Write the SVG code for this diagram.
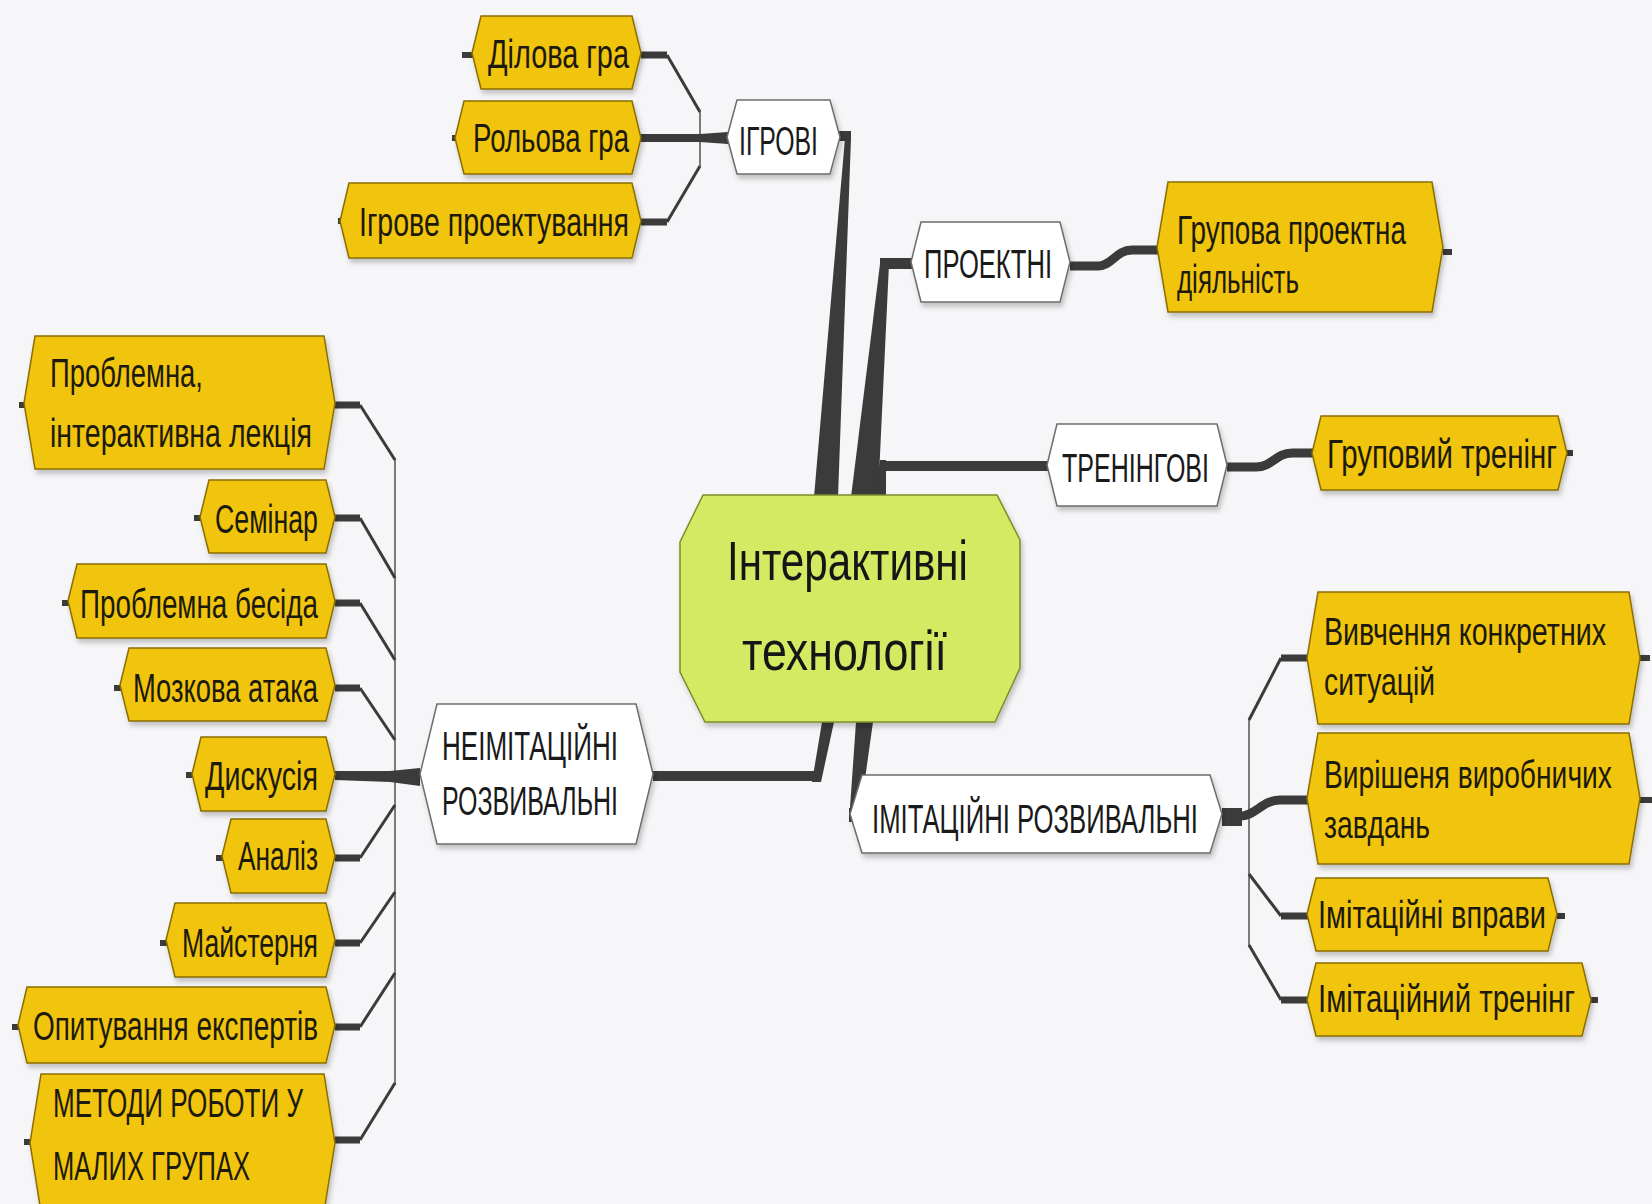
<svg xmlns="http://www.w3.org/2000/svg" width="1652" height="1204" viewBox="0 0 1652 1204">
<defs>
<filter id="sh" x="-10%" y="-10%" width="125%" height="135%">
<feDropShadow dx="2" dy="4" stdDeviation="2.5" flood-color="#000" flood-opacity="0.22"/>
</filter>
<style>
.y{fill:#f1c40f;stroke:#8a6e00;stroke-width:1.5;filter:url(#sh)}
.w{fill:#ffffff;stroke:#6c6c6c;stroke-width:1.5;filter:url(#sh)}
.c{fill:#d5ea63;stroke:#7d8c2c;stroke-width:1.5;filter:url(#sh)}
.t,.tw,.tc,.tr{font-family:"Liberation Sans",Arial,sans-serif}
.t{font-size:32px;fill:#1c1a0c}
.tr{font-size:31px;fill:#1c1a0c}
.tw{font-size:32px;fill:#1a1a1a}
.tc{font-size:46px;fill:#161616}
.h{stroke:#3b3b3b;stroke-width:7;fill:none}
.d{stroke:#3b3b3b;stroke-width:3;fill:none}
.s{stroke:#505050;stroke-width:1.5;fill:none}
.st{stroke:#3b3b3b;stroke-width:6;fill:none}
.b{stroke:#3b3b3b;stroke-width:10;fill:none}
.f{fill:#3b3b3b}
</style>
</defs>
<rect x="0" y="0" width="1652" height="1204" fill="#f6f6f8"/>

<g id="connectors">
<path class="h" d="M641,55 H667"/><path class="d" d="M667,55 L700,112"/>
<path class="h" d="M641,222 H667"/><path class="d" d="M667,222 L700,166"/>
<path class="s" d="M700,110 V168"/>
<polygon class="f" points="641,134 700,134 728,132 728,144 700,142 641,142"/>
<path class="st" d="M462,55 H474"/><path class="st" d="M452,138 H457"/><path class="st" d="M338,221 H342"/>
<rect class="f" x="838" y="131" width="13" height="10"/>
<polygon class="f" points="845,138 851,138 838,497 814,497"/>
<rect class="f" x="880" y="258" width="32" height="11"/>
<polygon class="f" points="880,264 889,264 878,497 851,497"/>
<polygon class="f" points="874,497 886,497 886,460 880,460"/>
<path class="b" d="M880,466 H1048"/>
<polygon class="f" points="822,722 834,722 821,782 812,782"/>
<path class="b" d="M653,776 H818"/>
<polygon class="f" points="856,722 873,722 859,822 849,822"/>
<rect class="f" x="849" y="808" width="10" height="14"/>
<path d="M1070,266 H1098 C1112,266 1116,250 1132,250 H1158" stroke="#3b3b3b" stroke-width="9" fill="none"/>
<path class="st" d="M1443,252 H1452"/>
<path d="M1227,467 H1256 C1272,467 1276,453 1292,453 H1313" stroke="#3b3b3b" stroke-width="9" fill="none"/>
<path class="st" d="M1567,453 H1573"/>
<path class="s" d="M395,458 V1085"/>
<path class="h" d="M335,405 H360"/><path class="d" d="M360,405 L395,460"/>
<path class="h" d="M335,518 H360"/><path class="d" d="M360,518 L395,578"/>
<path class="h" d="M335,603 H360"/><path class="d" d="M360,603 L395,660"/>
<path class="h" d="M335,688 H360"/><path class="d" d="M360,688 L395,740"/>
<polygon class="f" points="335,771 390,771 420,768 420,786 390,782 335,780"/>
<path class="h" d="M335,858 H360"/><path class="d" d="M360,858 L395,805"/>
<path class="h" d="M335,943 H360"/><path class="d" d="M360,943 L395,892"/>
<path class="h" d="M335,1027 H360"/><path class="d" d="M360,1027 L395,973"/>
<path class="h" d="M335,1140 H360"/><path class="d" d="M360,1140 L395,1083"/>
<path class="st" d="M19,405 H27"/><path class="st" d="M194,518 H203"/><path class="st" d="M62,603 H71"/>
<path class="st" d="M114,688 H123"/><path class="st" d="M186,775 H195"/><path class="st" d="M216,858 H225"/>
<path class="st" d="M160,943 H169"/><path class="st" d="M12,1027 H21"/><path class="st" d="M24,1142 H33"/>
<path class="s" d="M1249,718 V947"/>
<path class="h" d="M1281,658 H1309"/><path class="d" d="M1281,658 L1249,720"/>
<path d="M1222,816 H1240 C1256,816 1262,800 1280,800 H1309" stroke="#3b3b3b" stroke-width="9" fill="none"/>
<rect class="f" x="1222" y="808" width="20" height="18"/>
<path class="h" d="M1281,916 H1309"/><path class="d" d="M1281,916 L1249,874"/>
<path class="h" d="M1281,1000 H1309"/><path class="d" d="M1281,1000 L1249,945"/>
<path class="st" d="M1640,658 H1650"/><path class="st" d="M1640,800 H1652"/>
<path class="st" d="M1557,916 H1565"/><path class="st" d="M1591,1000 H1598"/>
</g>

<g id="center">
<polygon class="c" points="703,495 997,495 1020,540 1020,668 995,722 705,722 680,672 680,542"/>
<text class="tc" x="727" y="580" transform="matrix(1 0 0 1.2 0 -116)" textLength="241" lengthAdjust="spacingAndGlyphs">Інтерактивні</text>
<text class="tc" x="742" y="670" transform="matrix(1 0 0 1.2 0 -134)" textLength="205" lengthAdjust="spacingAndGlyphs">технології</text>
</g>

<g id="igrovi">
<polygon class="w" points="737,100 830,100 840,137 830,174 737,174 727,137"/>
<text class="tw" x="739" y="155" transform="matrix(1 0 0 1.25 0 -38.75)" textLength="79" lengthAdjust="spacingAndGlyphs">ІГРОВІ</text>
</g>
<g id="dilova-gra">
<polygon class="y" points="481,16 632,16 641,53 632,89 481,89 472,53"/>
<text class="t" x="488" y="68" transform="matrix(1 0 0 1.25 0 -17)" textLength="141" lengthAdjust="spacingAndGlyphs">Ділова гра</text>
</g>
<g id="rolova-gra">
<polygon class="y" points="464,101 632,101 641,138 632,174 464,174 455,138"/>
<text class="t" x="473" y="152" transform="matrix(1 0 0 1.25 0 -38)" textLength="156" lengthAdjust="spacingAndGlyphs">Рольова гра</text>
</g>
<g id="igrove-proektuvannia">
<polygon class="y" points="349,183 632,183 641,221 632,258 349,258 340,221"/>
<text class="t" x="359" y="236" transform="matrix(1 0 0 1.25 0 -59)" textLength="270" lengthAdjust="spacingAndGlyphs">Ігрове проектування</text>
</g>

<g id="proektni">
<polygon class="w" points="921,222 1060,222 1070,262 1060,302 921,302 911,262"/>
<text class="tw" x="924" y="278" transform="matrix(1 0 0 1.25 0 -69.5)" textLength="128" lengthAdjust="spacingAndGlyphs">ПРОЕКТНІ</text>
</g>
<g id="grupova-proektna">
<polygon class="y" points="1168,182 1432,182 1443,247 1432,312 1168,312 1157,247"/>
<text class="t" x="1177" y="244" transform="matrix(1 0 0 1.25 0 -61)" textLength="229" lengthAdjust="spacingAndGlyphs">Групова проектна</text>
<text class="t" x="1177" y="293" transform="matrix(1 0 0 1.25 0 -73.25)" textLength="122" lengthAdjust="spacingAndGlyphs">діяльність</text>
</g>

<g id="treningovi">
<polygon class="w" points="1057,424 1217,424 1227,465 1217,506 1057,506 1047,465"/>
<text class="tw" x="1062" y="482" transform="matrix(1 0 0 1.25 0 -120.5)" textLength="147" lengthAdjust="spacingAndGlyphs">ТРЕНІНГОВІ</text>
</g>
<g id="grupovyi-trening">
<polygon class="y" points="1321,416 1558,416 1567,453 1558,490 1321,490 1312,453"/>
<text class="t" x="1327" y="468" transform="matrix(1 0 0 1.25 0 -117)" textLength="230" lengthAdjust="spacingAndGlyphs">Груповий тренінг</text>
</g>

<g id="neimitatsiini">
<polygon class="w" points="437,704 636,704 653,774 636,844 437,844 420,774"/>
<text class="tw" x="442" y="760" transform="matrix(1 0 0 1.25 0 -190)" textLength="176" lengthAdjust="spacingAndGlyphs">НЕІМІТАЦІЙНІ</text>
<text class="tw" x="442" y="815" transform="matrix(1 0 0 1.25 0 -203.75)" textLength="176" lengthAdjust="spacingAndGlyphs">РОЗВИВАЛЬНІ</text>
</g>
<g id="problemna-lektsiia">
<polygon class="y" points="35,336 324,336 335,403 324,469 35,469 24,403"/>
<text class="t" x="50" y="387" transform="matrix(1 0 0 1.25 0 -96.75)" textLength="153" lengthAdjust="spacingAndGlyphs">Проблемна,</text>
<text class="t" x="50" y="447" transform="matrix(1 0 0 1.25 0 -111.75)" textLength="262" lengthAdjust="spacingAndGlyphs">інтерактивна лекція</text>
</g>
<g id="seminar">
<polygon class="y" points="209,480 326,480 335,517 326,553 209,553 200,517"/>
<text class="t" x="215" y="533" transform="matrix(1 0 0 1.25 0 -133.25)" textLength="103" lengthAdjust="spacingAndGlyphs">Семінар</text>
</g>
<g id="problemna-besida">
<polygon class="y" points="77,564 326,564 335,601 326,638 77,638 68,601"/>
<text class="t" x="80" y="618" transform="matrix(1 0 0 1.25 0 -154.5)" textLength="238" lengthAdjust="spacingAndGlyphs">Проблемна бесіда</text>
</g>
<g id="mozkova-ataka">
<polygon class="y" points="129,648 326,648 335,685 326,721 129,721 120,685"/>
<text class="t" x="133" y="702" transform="matrix(1 0 0 1.25 0 -175.5)" textLength="185" lengthAdjust="spacingAndGlyphs">Мозкова атака</text>
</g>
<g id="dyskusiia">
<polygon class="y" points="201,737 326,737 335,774 326,811 201,811 192,774"/>
<text class="t" x="205" y="790" transform="matrix(1 0 0 1.25 0 -197.5)" textLength="113" lengthAdjust="spacingAndGlyphs">Дискусія</text>
</g>
<g id="analiz">
<polygon class="y" points="231,819 326,819 335,856 326,893 231,893 222,856"/>
<text class="t" x="238" y="870" transform="matrix(1 0 0 1.25 0 -217.5)" textLength="80" lengthAdjust="spacingAndGlyphs">Аналіз</text>
</g>
<g id="maisterniia">
<polygon class="y" points="175,903 326,903 335,940 326,977 175,977 166,940"/>
<text class="t" x="182" y="957" transform="matrix(1 0 0 1.25 0 -239.25)" textLength="136" lengthAdjust="spacingAndGlyphs">Майстерня</text>
</g>
<g id="opytuvannia">
<polygon class="y" points="27,987 326,987 335,1025 326,1063 27,1063 18,1025"/>
<text class="t" x="33" y="1040" transform="matrix(1 0 0 1.25 0 -260)" textLength="285" lengthAdjust="spacingAndGlyphs">Опитування експертів</text>
</g>
<g id="metody">
<polygon class="y" points="41,1074 324,1074 335,1143 324,1212 41,1212 30,1143"/>
<text class="t" x="53" y="1117" transform="matrix(1 0 0 1.25 0 -279.25)" textLength="250" lengthAdjust="spacingAndGlyphs">МЕТОДИ РОБОТИ У</text>
<text class="t" x="53" y="1180" transform="matrix(1 0 0 1.25 0 -295)" textLength="197" lengthAdjust="spacingAndGlyphs">МАЛИХ ГРУПАХ</text>
</g>

<g id="imitatsiini">
<polygon class="w" points="862,775 1210,775 1222,814 1210,853 862,853 850,814"/>
<text class="tw" x="872" y="833" transform="matrix(1 0 0 1.25 0 -208.25)" textLength="326" lengthAdjust="spacingAndGlyphs">ІМІТАЦІЙНІ РОЗВИВАЛЬНІ</text>
</g>
<g id="vyvchennia">
<polygon class="y" points="1318,592 1629,592 1640,658 1629,724 1318,724 1307,658"/>
<text class="tr" x="1324" y="645" transform="matrix(1 0 0 1.25 0 -161.25)" textLength="282" lengthAdjust="spacingAndGlyphs">Вивчення конкретних</text>
<text class="tr" x="1324" y="695" transform="matrix(1 0 0 1.25 0 -173.75)" textLength="111" lengthAdjust="spacingAndGlyphs">ситуацій</text>
</g>
<g id="vyrishennia">
<polygon class="y" points="1318,733 1629,733 1640,798 1629,864 1318,864 1307,798"/>
<text class="tr" x="1324" y="788" transform="matrix(1 0 0 1.25 0 -197)" textLength="288" lengthAdjust="spacingAndGlyphs">Вирішеня виробничих</text>
<text class="tr" x="1324" y="838" transform="matrix(1 0 0 1.25 0 -209.5)" textLength="106" lengthAdjust="spacingAndGlyphs">завдань</text>
</g>
<g id="imitatsiini-vpravy">
<polygon class="y" points="1316,878 1548,878 1557,914 1548,951 1316,951 1307,914"/>
<text class="tr" x="1318" y="928" transform="matrix(1 0 0 1.25 0 -232)" textLength="228" lengthAdjust="spacingAndGlyphs">Імітаційні вправи</text>
</g>
<g id="imitatsiinyi-trening">
<polygon class="y" points="1316,963 1582,963 1591,1000 1582,1036 1316,1036 1307,1000"/>
<text class="tr" x="1318" y="1012" transform="matrix(1 0 0 1.25 0 -253)" textLength="257" lengthAdjust="spacingAndGlyphs">Імітаційний тренінг</text>
</g>
</svg>
